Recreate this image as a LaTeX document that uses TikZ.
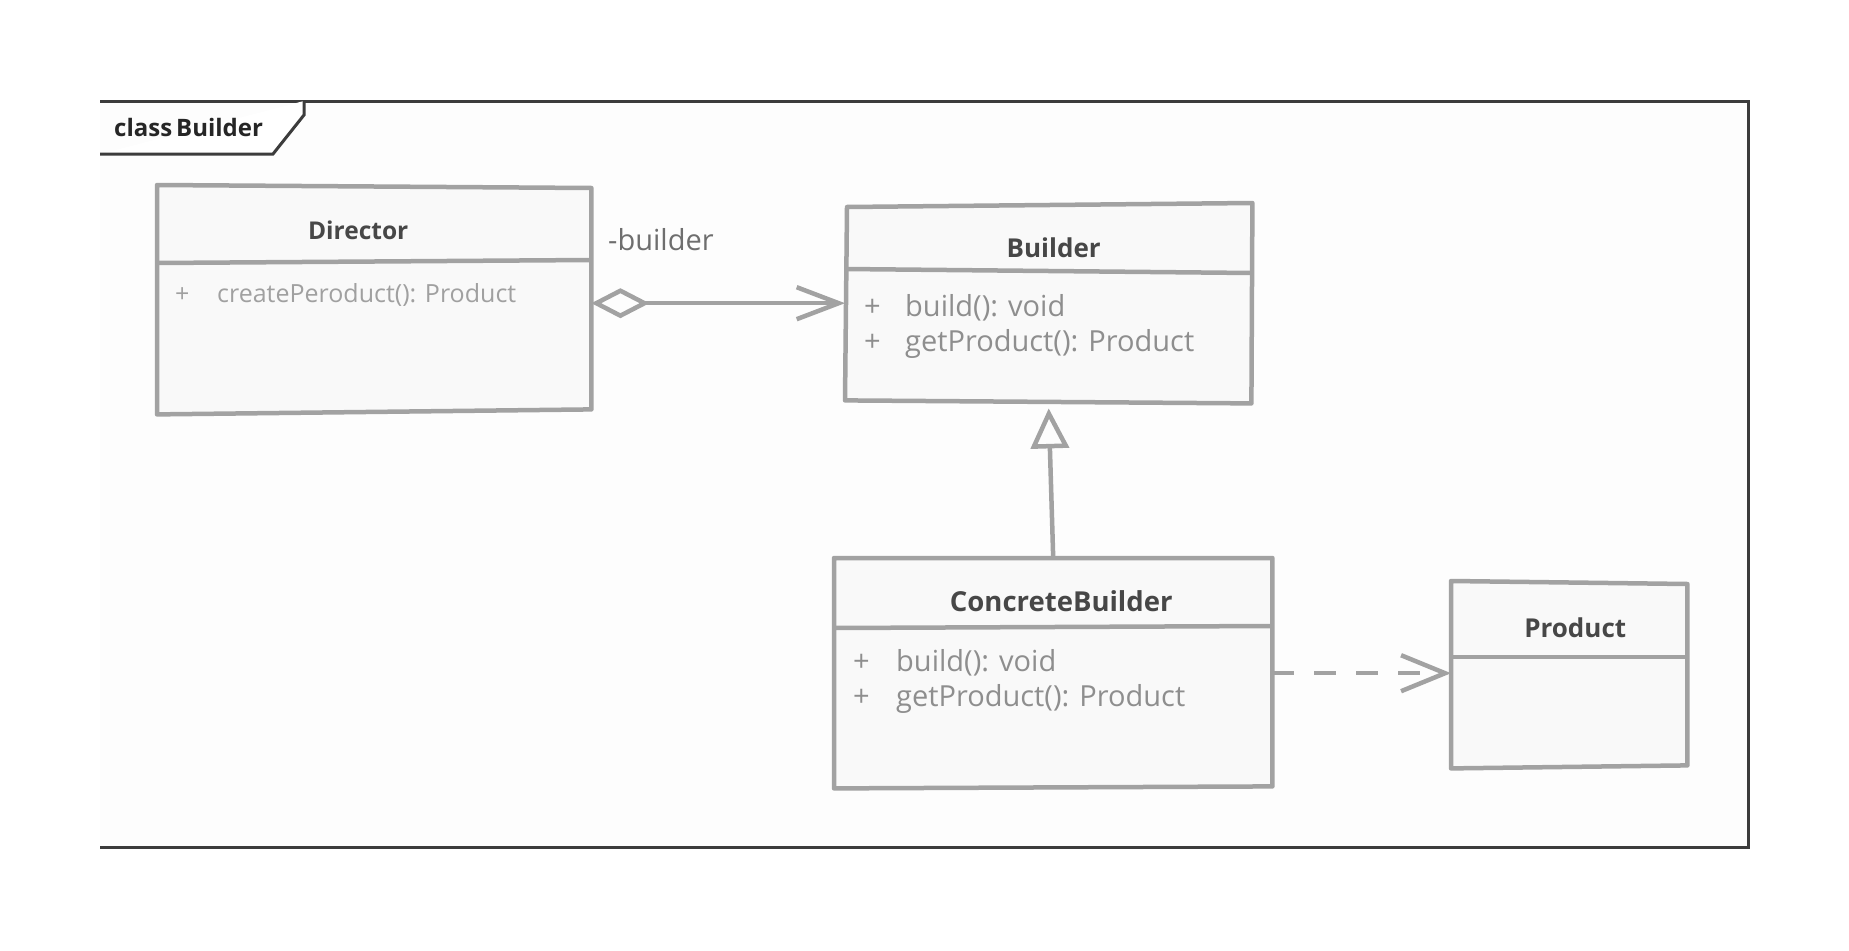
\documentclass[tikz,border=0pt]{standalone}
\usepackage{fontspec}
\setmainfont{Open Sans}
\usetikzlibrary{calc,arrows.meta}
\definecolor{boxstroke}{HTML}{A2A2A2}
\definecolor{boxfill}{HTML}{F9F9F9}
\definecolor{framefill}{HTML}{FDFDFD}
\definecolor{framestroke}{HTML}{3C3C3C}
\definecolor{titletext}{HTML}{474747}
\definecolor{membertext}{HTML}{8E8E8E}
\definecolor{lightmember}{HTML}{A0A0A0}
\definecolor{roletext}{HTML}{6E6E6E}
\tikzset{
  umlbox/.style={draw=none, fill=none, inner sep=0pt, anchor=north west},
  outline/.style={draw=boxstroke, line width=4.5pt, fill=boxfill, line join=round},
  divider/.style={draw=boxstroke, line width=4.5pt},
  clstitle/.style={font=\fontsize{26pt}{30pt}\selectfont\bfseries, text=titletext, inner sep=0pt},
  member/.style={font=\fontsize{29pt}{33pt}\selectfont, text=membertext, inner sep=0pt, anchor=west, text height=21pt, text depth=7pt},
  smallmember/.style={member, font=\fontsize{25pt}{29pt}\selectfont, text=lightmember, text height=18pt, text depth=6pt},
  conn/.style={draw=boxstroke, line width=4.5pt},
  frameline/.style={draw=framestroke, line width=3pt}
}
\begin{document}
\begin{tikzpicture}[x=1pt,y=-1pt]
\useasboundingbox (0,0) rectangle (1849,950);
\fill[white] (0,0) rectangle (1849,950);
% diagram frame
\coordinate (fnw) at (100,101);
\coordinate (fne) at (1748,101);
\coordinate (fse) at (1748,847);
\coordinate (fsw) at (100,847);
\fill[framefill] (fnw) rectangle (fse);
\draw[frameline] (fnw) -- (fne) -- (fse) -- (fsw);
\draw[frameline, fill=white, line join=miter] (100,154) -- (273,154) -- (304,115) -- (304,101);
\node[anchor=west, inner sep=0pt, font=\fontsize{24pt}{27pt}\selectfont\bfseries, text=black!85] (tab) at (114,127) {class\hspace{4pt}Builder};

% class boxes (invisible anchors)
\node[umlbox, minimum width=434pt, minimum height=228pt] (director) at (157,185) {};
\node[umlbox, minimum width=407pt, minimum height=200pt] (builder) at (845,203) {};
\node[umlbox, minimum width=438pt, minimum height=230pt] (cb) at (834,558) {};
\node[umlbox, minimum width=236pt, minimum height=185pt] (product) at (1451,583) {};

% outlines
\draw[outline] ([shift={(0,0)}]director.north west) -- ([shift={(0,3)}]director.north east)
  -- ([shift={(0,-4)}]director.south east) -- ([shift={(0,1)}]director.south west) -- cycle;
\draw[divider] ([shift={(0,78)}]director.north west) -- ([shift={(0,75)}]director.north east);

\draw[outline] ([shift={(2,4)}]builder.north west) -- ([shift={(0,0)}]builder.north east)
  -- ([shift={(-1,0)}]builder.south east) -- ([shift={(0,-3)}]builder.south west) -- cycle;
\draw[divider] ([shift={(0,66)}]builder.north west) -- ([shift={(0,70)}]builder.north east);

\draw[outline] ([shift={(0,0)}]cb.north west) -- ([shift={(0,0)}]cb.north east)
  -- ([shift={(0,-2)}]cb.south east) -- ([shift={(0,0)}]cb.south west) -- cycle;
\draw[divider] ([shift={(0,70)}]cb.north west) -- ([shift={(0,68)}]cb.north east);

\draw[outline] ([shift={(0,-2)}]product.north west) -- ([shift={(0,1)}]product.north east)
  -- ([shift={(0,-3)}]product.south east) -- ([shift={(0,0)}]product.south west) -- cycle;
\draw[divider] ([shift={(0,74)}]product.north west) -- ([shift={(0,74)}]product.north east);

% texts
\node[clstitle, font=\fontsize{24.5pt}{28pt}\selectfont\bfseries] (directorT) at ($(director.north)+(-16,45)$) {Director};
\node[smallmember] (directorP) at ($(director.north west)+(18,111)$) {+};
\node[smallmember] (directorM) at ($(director.north west)+(60,111)$) {createPeroduct(): Product};

\node[clstitle] (builderT) at ($(builder.north)+(5,45)$) {Builder};
\node[member] (builderP1) at ($(builder.north west)+(19,106)$) {+};
\node[member] (builderM1) at ($(builder.north west)+(60,106)$) {build(): void};
\node[member] (builderP2) at ($(builder.north west)+(19,141)$) {+};
\node[member] (builderM2) at ($(builder.north west)+(60,141)$) {getProduct(): Product};

\node[clstitle, font=\fontsize{27.5pt}{31pt}\selectfont\bfseries] (cbT) at ($(cb.north)+(8,43)$) {ConcreteBuilder};
\node[member] (cbP1) at ($(cb.north west)+(19,106)$) {+};
\node[member] (cbM1) at ($(cb.north west)+(62,106)$) {build(): void};
\node[member] (cbP2) at ($(cb.north west)+(19,141)$) {+};
\node[member] (cbM2) at ($(cb.north west)+(62,141)$) {getProduct(): Product};

\node[clstitle] (productT) at ($(product.north)+(6,45)$) {Product};

% connectors
\draw[conn, {Diamond[open, length=58pt, width=30pt, line width=4.5pt]}-{Straight Barb[length=42pt, width=32pt, line width=4.5pt]}]
  (director.east |- builder.west) -- (builder.west);
\node[anchor=west, inner sep=0pt, font=\fontsize{29pt}{32pt}\selectfont, text=roletext] (role) at (608,240) {-builder};

\draw[conn, -{Triangle[open, length=40pt, width=38pt, line width=4.5pt]}]
  (cb.north) -- ([yshift=-5pt]builder.south);

\draw[conn, dash pattern=on 22pt off 20pt, -{Straight Barb[length=44pt, width=36pt, line width=4.5pt]}]
  (cb.east) -- (cb.east -| product.west);
\end{tikzpicture}
\end{document}
